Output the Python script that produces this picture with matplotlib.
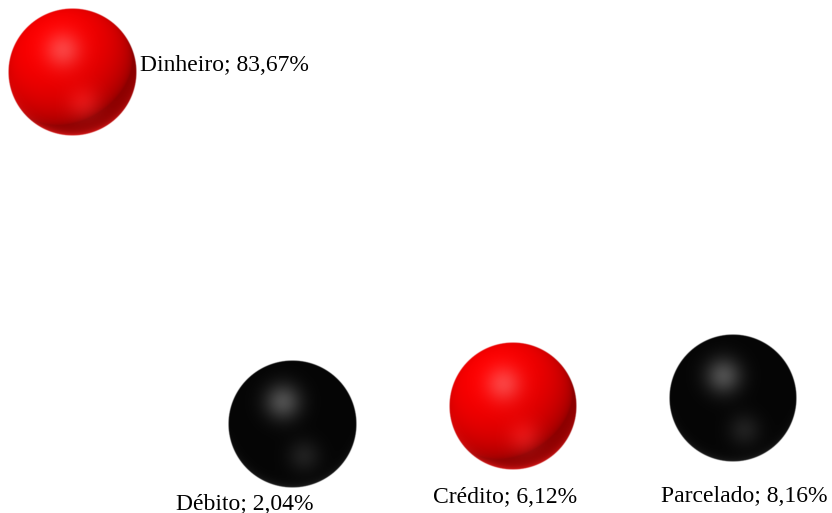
import numpy as np
import matplotlib
matplotlib.use("Agg")
import matplotlib.pyplot as plt

# ---- data ----
categories = ["Dinheiro", "Débito", "Crédito", "Parcelado"]
values = [83.67, 2.04, 6.12, 8.16]
labels = ["Dinheiro; 83,67%", "Débito; 2,04%", "Crédito; 6,12%", "Parcelado; 8,16%"]
colors = ["red", "black", "red", "black"]

# label offsets in pixels (style/placement only)
label_offsets = [(68, 7, "left"), (-48, -80, "center"), (-8, -91, "center"), (11, -99, "center")]

RADIUS_PX = 64


def sphere_image(kind, n=256):
    yy, xx = np.mgrid[-1:1:n * 1j, -1:1:n * 1j]  # yy increases downward (origin upper)
    r = np.sqrt(xx ** 2 + yy ** 2)
    z = np.sqrt(np.clip(1 - r ** 2, 0, 1))
    L = np.array([-0.35, -0.55, 0.75])
    L = L / np.linalg.norm(L)
    diff = np.clip(xx * L[0] + yy * L[1] + z * L[2], 0, 1)
    g1 = np.exp(-(((xx + 0.15) ** 2 + (yy + 0.35) ** 2) / (2 * 0.2 ** 2)))
    g2 = np.exp(-(((xx - 0.18) ** 2 + (yy - 0.5) ** 2) / (2 * 0.18 ** 2)))
    rim = np.exp(-((1 - r) / 0.06)) * np.clip(yy, 0, 1)
    img = np.zeros((n, n, 4))
    if kind == "red":
        shade = 0.55 + 0.45 * diff ** 0.6
        R = np.clip(shade + 0.1 * g2 + 0.3 * rim, 0, 1)
        G = np.clip(0.25 * g1 + 0.08 * g2 + 0.1 * rim, 0, 1)
        B = np.clip(0.25 * g1 + 0.08 * g2 + 0.1 * rim, 0, 1)
    else:
        v = 0.02 + 0.28 * g1 + 0.1 * g2 + 0.1 * rim
        R = G = B = np.clip(v, 0, 1)
    img[..., 0] = R
    img[..., 1] = G
    img[..., 2] = B
    img[..., 3] = np.clip((1 - r) * n / 2.5, 0, 1)
    return img


fig = plt.figure(figsize=(8.32, 5.13), dpi=100)
ax = fig.add_axes([0, 0, 1, 1])
x = np.arange(len(categories))
ax.set_xlim(-0.327, 3.45)
ax.set_ylim(-18.6, 100.37)
ax.axis("off")

# invisible anchor points through the library's scales
ax.scatter(x, values, s=0, alpha=0)

fig.canvas.draw()
inv = ax.transData.inverted()
imgs = {"red": sphere_image("red"), "black": sphere_image("black")}
for xi, v, c in zip(x, values, colors):
    px, py = ax.transData.transform((xi, v))
    x0, y0 = inv.transform((px - RADIUS_PX, py - RADIUS_PX))
    x1, y1 = inv.transform((px + RADIUS_PX, py + RADIUS_PX))
    ax.imshow(imgs[c], extent=[x0, x1, y0, y1], origin="upper",
              aspect="auto", interpolation="bilinear", zorder=2)

for xi, v, lab, (dx, dy, ha) in zip(x, values, labels, label_offsets):
    ax.annotate(lab, (xi, v), xytext=(dx * 0.72, dy * 0.72), textcoords="offset points",
                ha=ha, va="center", fontsize=17, family="Liberation Serif",
                color="black", zorder=3)

ax.set_xlim(-0.327, 3.45)
ax.set_ylim(-18.6, 100.37)
fig.savefig("out.png", dpi=100, facecolor="white")
